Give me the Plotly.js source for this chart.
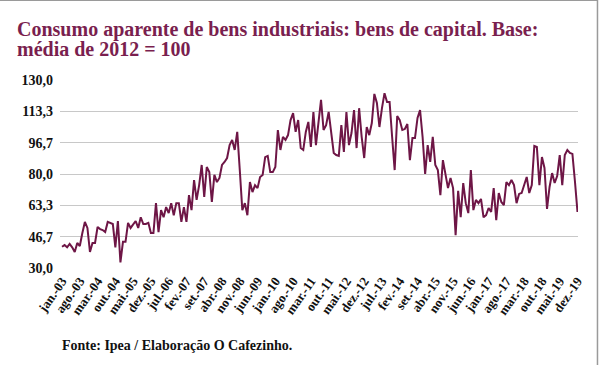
<!DOCTYPE html>
<html>
<head>
<meta charset="utf-8">
<script src="https://cdn.plot.ly/plotly-3.0.1.min.js"></script>
<style>html,body{margin:0;padding:0;background:#fff;}#chart{width:601px;height:365px;}</style>
</head>
<body>
<div id="chart"></div>
<script>
// Month names (pt-BR) and years used to build the category labels
const monthNames = ['jan','fev','mar','abr','mai','jun','jul','ago','set','out','nov','dez'];
const years = ['03','04','05','06','07','08','09','10','11','12','13','14','15','16','17','18','19'];

// Index values (base: média de 2012 = 100), jan-03 .. dez-19
const values2003_2006 = [41.3, 42.2, 41, 42.8, 41, 38.5, 43.3, 41.7, 48.6, 54.5, 51.3, 38.5,
  43.3, 43.3, 51.8, 50.7, 50.2, 49.1, 54.5, 53.9, 53.4, 41, 55, 33,
  43.9, 43.9, 54, 51.3, 53.4, 55, 51.3, 57, 53.4, 53.4, 54, 48.6,
  48.6, 64.5, 49.1, 60.8, 57, 62.4, 59.2, 64.5, 58.1, 64.5, 64.5];
const values2006_2012 = [54.5, 62.4, 54.5, 68.8, 60.8, 76.8, 66.2, 74.1, 84.8, 67.8, 83.7, 81,
  65.1, 79.5, 75.7, 77.9, 84.8, 86.4, 88.5, 95.4, 98.1, 92.8, 102.4, 82.1,
  60.8, 64.5, 58.1, 75.7, 70.4, 74.1, 72.5, 78.4, 79.5, 89, 89.6, 81,
  81, 83.7, 103.4, 92.8, 99.7, 98.1, 100.7, 108.7, 112.4, 102.4, 108.7, 93.8,
  92.8, 102.4, 107.7, 94.4, 113, 95.4, 107.1, 119.4, 103.4, 106, 113, 103.4,
  91.2, 90.1, 89.6];
const values2012_2016 = [106, 91.7, 113, 95.4, 101.8, 114, 93.8, 115, 99.7, 88.5,
  105, 100.7, 107.1, 122.6, 117.8, 105, 115, 123, 118.3, 118.3, 99.7, 82.1,
  110.8, 108.7, 103.4, 103.9, 106.6, 87.4, 99.1, 99.1, 109.8, 114, 99.7, 80,
  95.4, 86.4, 99.7, 84.8, 82.1, 68.8, 87.4, 79.5, 72.5, 77.9, 72.5, 47.5,
  71, 57, 75.2, 64.5, 59.2, 82.1, 60.8, 66.2, 64.5];
const values2016_2019 = [66.7, 57, 58.1, 61.9, 59.8, 72.5, 55.5, 69.9, 65.1, 63.5, 75.7, 74.1,
  76.8, 74.1, 64.5, 69.4, 69.9, 74.1, 78.4, 69.9, 74.1, 94.9, 94.4, 74.1,
  89, 83.2, 61.4, 73.1, 80.5, 75.2, 78.9, 90.1, 74.1, 90.1, 92.8, 91.2,
  90.7, 76, 59.8];

// Y tick values and labels
const yTickVals = [30, 46.7, 63.3, 80, 96.7, 113.3, 130];
const yTickText = ['30,0', '46,7', '63,3', '80,0', '96,7', '113,3', '130,0'];

const values = [].concat(values2003_2006, values2006_2012, values2012_2016, values2016_2019);
const categories = [];
years.forEach(y => monthNames.forEach(m => categories.push(m + '.-' + y)));
const cats = categories.slice(0, values.length);
const xTickVals = cats.filter((c, i) => i % 7 === 0);

const maroon = '#6e1646';
const serif = 'Liberation Serif, Times New Roman, serif';

const trace = {
  x: cats, y: values, type: 'scatter', mode: 'lines',
  line: {color: maroon, width: 2}, hoverinfo: 'skip'
};

const layout = {
  width: 601, height: 365,
  margin: {l: 60, r: 23, t: 80, b: 97},
  paper_bgcolor: '#fff', plot_bgcolor: '#fff',
  showlegend: false,
  xaxis: {
    type: 'category', range: [-0.8, cats.length - 0.8],
    tickmode: 'array', tickvals: xTickVals, ticktext: xTickVals,
    tickangle: -55, showgrid: false, zeroline: false, showline: false, ticks: '',
    ticklabelstandoff: 2,
    tickfont: {family: serif, size: 13, color: '#111', weight: 'bold'}
  },
  yaxis: {
    range: [30, 130], tickmode: 'array', tickvals: yTickVals, ticktext: yTickText,
    showgrid: true, gridcolor: '#c8c8c8', gridwidth: 1, zeroline: false, showline: false,
    ticks: '', ticklabelstandoff: 6,
    tickfont: {family: serif, size: 14, color: '#111', weight: 'bold'}
  },
  annotations: [
    {text: '<b>Consumo aparente de bens industriais: bens de capital. Base:</b>', xref: 'paper', yref: 'paper',
     x: -0.087, y: 1.266, xanchor: 'left', yanchor: 'middle', showarrow: false,
     font: {family: serif, size: 20, color: '#7a1f4f'}},
    {text: '<b>média de 2012 = 100</b>', xref: 'paper', yref: 'paper',
     x: -0.087, y: 1.165, xanchor: 'left', yanchor: 'middle', showarrow: false,
     font: {family: serif, size: 20, color: '#7a1f4f'}},
    {text: '<b>Fonte: Ipea / Elaboração O Cafezinho.</b>', xref: 'paper', yref: 'paper',
     x: 0.0, y: -0.41, xanchor: 'left', yanchor: 'middle', showarrow: false,
     font: {family: serif, size: 14, color: '#111'}}
  ],
  shapes: [
    {type: 'line', xref: 'paper', yref: 'paper', x0: -0.2, x1: 0.0376 + 1, y0: 1.4255, y1: 1.4255,
     line: {color: '#9a9a9a', width: 2}},
    {type: 'line', xref: 'paper', yref: 'paper', x0: 1.0376, x1: 1.0376, y0: 1.43, y1: -0.52,
     line: {color: '#9a9a9a', width: 1.5}}
  ]
};

Plotly.newPlot('chart', [trace], layout, {displayModeBar: false, staticPlot: true});
</script>
</body>
</html>
